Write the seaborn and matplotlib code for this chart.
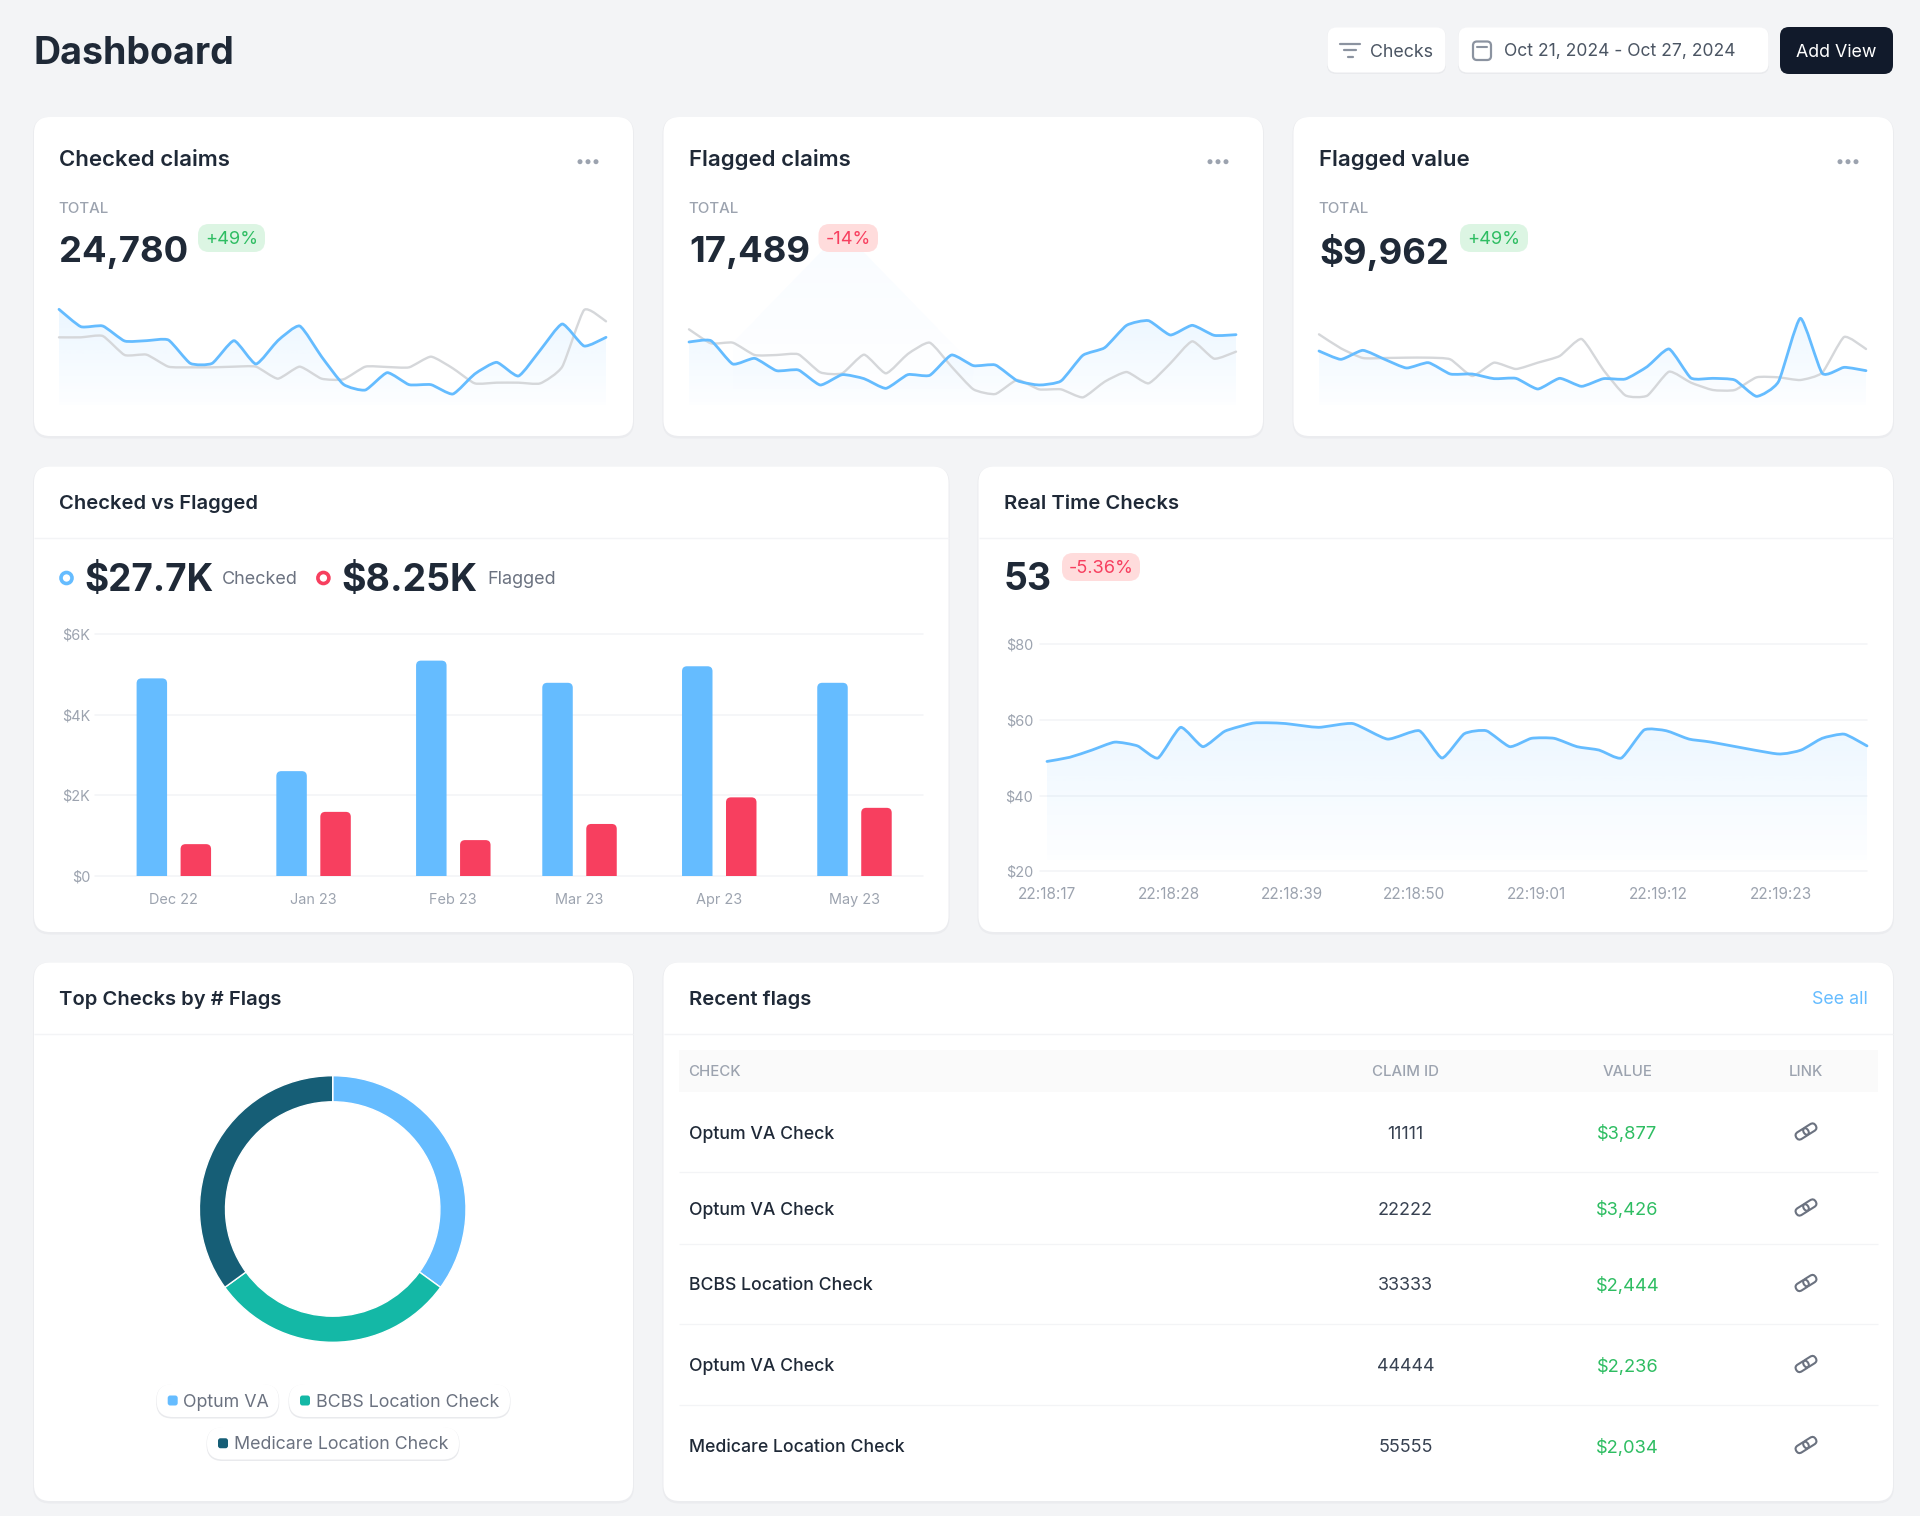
"""
plot.py
Rebuilds the claims dashboard as one seaborn / matplotlib figure.
"""

import numpy as np
import pandas as pd
import seaborn as sns
import matplotlib.pyplot as plt
from matplotlib.colors import to_rgb
from matplotlib.patches import FancyBboxPatch, Circle, Polygon, PathPatch, Rectangle
from matplotlib.path import Path
from matplotlib.transforms import Affine2D

W, H = 1920, 1516

# Sparkline series, heights above the baseline of each mini chart
spark1_blue = [287, 235, 237, 192, 193, 195, 125, 125, 193, 123, 193, 237, 145,
               62, 45, 97, 61, 61, 33, 93, 128, 87, 165, 243, 177, 203]
spark1_grey = [203, 203, 207, 150, 151, 115, 113, 113, 115, 115, 79, 115, 79,
               77, 115, 114, 113, 145, 110, 65, 67, 67, 65, 115, 285, 251]
spark2_blue = [189, 193, 123, 140, 103, 105, 60, 91, 79, 50, 91, 89, 150,
               118, 120, 73, 60, 72, 149, 172, 239, 253, 210, 239, 209, 211]
spark2_grey = [227, 185, 187, 150, 150, 152, 98, 95, 151, 95, 153, 187, 115,
               47, 33, 75, 47, 47, 23, 70, 99, 65, 125, 191, 139, 160]
spark2_ghost_idx = [2, 7, 13]
spark2_ghost = [187, 525, 120]
spark3_blue = [162, 137, 164, 137, 111, 127, 93, 93, 79, 80, 48, 80, 56,
               79, 78, 115, 168, 81, 80, 75, 26, 70, 260, 95, 113, 103]
spark3_grey = [212, 170, 141, 141, 142, 142, 137, 87, 127, 108, 127, 147, 198,
               105, 29, 28, 100, 67, 45, 45, 83, 83, 75, 97, 204, 168]

card_titles = ["Checked claims", "Flagged claims", "Flagged value"]
card_totals = ["24,780", "17,489", "$9,962"]
card_badges = ["+49%", "-14%", "+49%"]

# Checked vs Flagged
bar_months = ["Dec 22", "Jan 23", "Feb 23", "Mar 23", "Apr 23", "May 23"]
bar_days = [0, 31, 62, 90, 121, 151]
bar_checked = [4900, 2600, 5340, 4790, 5200, 4790]
bar_flagged = [790, 1590, 890, 1290, 1950, 1690]
bar_yticks = [0, 2000, 4000, 6000]
bar_ylabels = ["$0", "$2K", "$4K", "$6K"]

# Real time checks, seconds after 22:18:00
rt_seconds = [17, 19.05, 21.04, 23.09, 25.14, 26.98, 29.02, 31.02, 33.01, 35.5,
              37, 38.46, 41.43, 44.5, 47.63, 50.49, 52.53, 54.53, 56.52, 58.63,
              60.57, 62.62, 64.67, 66.66, 68.66, 70.71, 72.7, 74.75, 76.74,
              82.67, 84.83, 86.72, 88.72, 90.76]
rt_values = [49, 50.1, 52, 54.1, 53.1, 49.9, 58, 52.9, 57, 59.1,
             59.2, 59, 58, 59, 54.9, 57.1, 49.9, 56.3, 57.1, 52.9,
             55.1, 55.1, 52.9, 52, 49.9, 57.3, 57.1, 54.9, 54.1,
             51, 52, 55.1, 56.2, 53.1]
rt_ticks = [17, 28, 39, 50, 61, 72, 83]
rt_labels = ["22:18:17", "22:18:28", "22:18:39", "22:18:50", "22:19:01", "22:19:12", "22:19:23"]
rt_yticks = [20, 40, 60, 80]
rt_ylabels = ["$20", "$40", "$60", "$80"]

# Donut
donut_labels = ["Optum VA", "BCBS Location Check", "Medicare Location Check"]
donut_values = [35, 30, 35]

# Recent flags table
flag_checks = ["Optum VA Check", "Optum VA Check", "BCBS Location Check",
               "Optum VA Check", "Medicare Location Check"]
flag_claims = ["11111", "22222", "33333", "44444", "55555"]
flag_values = ["$3,877", "$3,426", "$2,444", "$2,236", "$2,034"]

BG = "#f3f4f6"
BLUE = "#65bcff"
RED = "#f73f5f"
TEAL = "#14b8a6"
NAVY = "#165e76"
GREY_LINE = "#d5d7da"
DARK = "#1f2937"
MUTED = "#9ca3af"
BODY = "#6b7280"
GREEN = "#2ebd62"
GRID = "#f3f4f6"

sns.set_theme(style="white")
plt.rcParams["font.family"] = ["Inter", "DejaVu Sans"]

fig = plt.figure(figsize=(W / 100, H / 100), dpi=100, facecolor=BG)


def px_axes(x0, y0, x1, y1, z=1):
    ax = fig.add_axes([x0 / W, 1 - y1 / H, (x1 - x0) / W, (y1 - y0) / H], zorder=z)
    ax.patch.set_alpha(0)
    return ax


def page_axes(z):
    ax = px_axes(0, 0, W, H, z)
    ax.set_xlim(0, W)
    ax.set_ylim(H, 0)
    ax.axis("off")
    return ax


bg = page_axes(0)
fg = page_axes(5)


def box(ax, x0, y0, x1, y1, r, fc, ec="none", lw=0.0, z=2):
    p = FancyBboxPatch((x0 + r, y0 + r), x1 - x0 - 2 * r, y1 - y0 - 2 * r,
                       boxstyle=f"round,pad={r},rounding_size={r}",
                       fc=fc, ec=ec, lw=lw, zorder=z)
    ax.add_patch(p)
    return p


def card(x0, y0, x1, y1):
    box(bg, x0 - 1, y0, x1 + 1, y1 + 2.5, 17, "#ebecef", z=1)
    box(bg, x0, y0, x1, y1, 16, "white", z=2)


def label(x, y, s, size, color=DARK, weight="normal", ha="left"):
    # va=center sits a little high for this font, nudge by the size
    return fg.text(x, y + 0.085 * size, s, fontsize=size * 0.72, color=color,
                   fontweight=weight, ha=ha, va="center")


def hline(x0, x1, y, color=GRID, lw=1.0):
    bg.plot([x0, x1], [y, y], color=color, lw=lw, zorder=3, solid_capstyle="butt")


def badge(x0, x1, y0, y1, s, good):
    box(fg, x0, y0, x1, y1, 11, "#dcf5e3" if good else "#ffdcdc", z=3)
    label((x0 + x1) / 2, (y0 + y1) / 2 - 0.5, s, 18.2, GREEN if good else RED, ha="center")


def gradient_fill(ax, x, y, base, top_val, alpha, alpha_low=0.012, z=1):
    """Fill under x/y with a vertical blue fade, clipped to the area."""
    img = np.ones((256, 1, 4))
    img[..., :3] = to_rgb(BLUE)
    img[:, 0, 3] = np.linspace(alpha, alpha_low, 256)
    xl, yl = ax.get_xlim(), ax.get_ylim()
    im = ax.imshow(img, extent=[min(x), max(x), base, top_val], aspect="auto", zorder=z,
                   origin="upper")
    poly = Polygon(list(zip(x, y)) + [(x[-1], base), (x[0], base)],
                   transform=ax.transData, fc="none", ec="none")
    ax.add_patch(poly)
    im.set_clip_path(poly)
    ax.set_xlim(xl)
    ax.set_ylim(yl)


def soften(ax, line, tension=0.09):
    """Swap a lineplot polyline for a bezier through the same points."""
    pts = line.get_xydata()
    verts = [tuple(pts[0])]
    codes = [Path.MOVETO]
    n = len(pts)
    for k in range(n - 1):
        p0 = pts[max(k - 1, 0)]
        p1, p2 = pts[k], pts[k + 1]
        p3 = pts[min(k + 2, n - 1)]
        verts += [tuple(p1 + (p2 - p0) * tension), tuple(p2 - (p3 - p1) * tension), tuple(p2)]
        codes += [Path.CURVE4] * 3
    patch = PathPatch(Path(verts, codes), fc="none", ec=line.get_color(), lw=line.get_linewidth(),
                      zorder=line.get_zorder(), clip_on=False, capstyle="round", joinstyle="round")
    ax.add_patch(patch)
    line.set_visible(False)


# Cards
card(34, 117, 633, 436)
card(663.5, 117, 1263, 436)
card(1293.5, 117, 1893, 436)
card(34, 466.5, 948.5, 932)
card(978.5, 466.5, 1893, 932)
card(34, 962.5, 633, 1501)
card(663.5, 962.5, 1893, 1501)

# Header
label(34, 51, "Dashboard", 37.5, DARK, "bold")
box(bg, 1327, 28, 1446, 74, 9, "#e9eaed", z=1)
box(bg, 1327.5, 27.5, 1445.5, 72.5, 9, "white")
box(bg, 1458, 28, 1769, 74, 9, "#e9eaed", z=1)
box(bg, 1458.5, 27.5, 1768.5, 72.5, 9, "white")
box(bg, 1780, 27, 1893, 74, 9, "#111a2b")
label(1370, 50.5, "Checks", 17.8, "#4b5563")
label(1503.5, 50.5, "Oct 21, 2024 - Oct 27, 2024", 17.5, "#4b5563")
label(1836.5, 50.5, "Add View", 17.8, "white", ha="center")
for y, x0, x1 in [(44, 1340, 1360), (50, 1344, 1356), (57, 1347.5, 1352.5)]:
    fg.plot([x0, x1], [y, y], color="#8b93a0", lw=1.6, solid_capstyle="round")
box(fg, 1473, 41.5, 1491, 60, 4, "none", "#8b93a0", 1.6)
fg.plot([1477, 1487], [47, 47], color="#8b93a0", lw=1.5)

# KPI cards
spark_x = [(59, 606), (689, 1236), (1319, 1866)]
badge_x = [(198, 265), (818.5, 878), (1460, 1528)]
spark_blue = [spark1_blue, spark2_blue, spark3_blue]
spark_grey = [spark1_grey, spark2_grey, spark3_grey]
for i in range(3):
    x0, x1 = spark_x[i]
    label(x0, 158, card_titles[i], 22.2, DARK, "semibold")
    label(x0 - 1, 207.5, "TOTAL", 15, MUTED, "medium")
    label(x0, 249.5, card_totals[i], 36.5, DARK, "bold")
    badge(badge_x[i][0], badge_x[i][1], 224, 252, card_badges[i], card_badges[i][0] == "+")
    for j in range(3):
        fg.add_patch(Circle((x1 - 26 + j * 8, 161.7), 2.5, fc=MUTED, ec="none"))

    ax = px_axes(x0, 225, x1, 405, 1)
    ax.set_xlim(0, 25)
    ax.set_ylim(0, 540)
    ax.axis("off")
    idx = list(range(26))
    gradient_fill(ax, idx, spark_blue[i], 0, 290, 0.13)
    if i == 1:
        gradient_fill(ax, spark2_ghost_idx, spark2_ghost, 0, 525, 0.045, alpha_low=0.0)
    sns.lineplot(x=idx, y=spark_grey[i], ax=ax, color=GREY_LINE, lw=1.7, errorbar=None, zorder=3)
    sns.lineplot(x=idx, y=spark_blue[i], ax=ax, color=BLUE, lw=2.0, errorbar=None, zorder=4)
    for ln in list(ax.lines):
        soften(ax, ln)

# Checked vs Flagged
label(59, 502, "Checked vs Flagged", 20.2, DARK, "semibold")
hline(34, 948.5, 537.5)
label(84, 578, "$27.7K", 37, DARK, "bold")
label(221.5, 578, "Checked", 18, BODY)
label(341, 578, "$8.25K", 37.5, DARK, "bold")
label(487.5, 578, "Flagged", 18, BODY)
fg.add_patch(Circle((66.5, 578), 5.5, fc="white", ec=BLUE, lw=2.6))
fg.add_patch(Circle((323.4, 578), 5.5, fc="white", ec=RED, lw=2.6))

bar_df = pd.concat([
    pd.DataFrame({"day": bar_days, "value": bar_checked, "series": "Checked"}),
    pd.DataFrame({"day": bar_days, "value": bar_flagged, "series": "Flagged"}),
])
ax = px_axes(94.5, 634, 923, 876, 2)
sns.barplot(data=bar_df, x="day", y="value", hue="series", native_scale=True,
            palette={"Checked": BLUE, "Flagged": RED}, width=0.697, gap=0.307,
            legend=False, ax=ax, saturation=1, zorder=3)
ax.set_xlim(-17.6, 166.2)
ax.set_ylim(0, 6000)
ax.set_xlabel("")
ax.set_ylabel("")
ax.set_xticks(bar_days, bar_months)
ax.set_yticks(bar_yticks, bar_ylabels)
ax.tick_params(axis="x", length=0, pad=12, labelsize=10.4, labelcolor=MUTED)
ax.tick_params(axis="y", length=0, pad=3.2, labelsize=10.4, labelcolor=MUTED)
ax.grid(axis="y", color=GRID, lw=1.1)
ax.set_axisbelow(True)
sns.despine(ax=ax, left=True, bottom=True)
for gl in ax.get_ygridlines():
    gl.set_clip_on(False)
# round the top corners of every bar
rx, ry = 5 / 4.507, 5 * 6000 / 242
for rect in list(ax.patches):
    if rect.get_height() == 0:
        continue
    bx, bw, bh = rect.get_x(), rect.get_width(), rect.get_height()
    verts = [(bx, 0), (bx, bh - ry), (bx, bh), (bx + rx, bh), (bx + bw - rx, bh),
             (bx + bw, bh), (bx + bw, bh - ry), (bx + bw, 0), (bx, 0)]
    codes = [Path.MOVETO, Path.LINETO, Path.CURVE3, Path.CURVE3, Path.LINETO,
             Path.CURVE3, Path.CURVE3, Path.LINETO, Path.CLOSEPOLY]
    ax.add_patch(PathPatch(Path(verts, codes), fc=rect.get_facecolor(), ec="none", zorder=3))
    rect.set_visible(False)

# Real Time Checks
label(1004, 502, "Real Time Checks", 20.2, DARK, "semibold")
hline(978.5, 1893, 537.5)
label(1004, 577, "53", 37.5, DARK, "bold")
badge(1062, 1140, 553, 581, "-5.36%", False)

ax = px_axes(1040, 644, 1867, 871.3, 2)
ax.set_xlim(16.37, 90.76)
ax.set_ylim(20, 80)
gradient_fill(ax, rt_seconds, rt_values, 23, 59, 0.12, z=2)
sns.lineplot(x=rt_seconds, y=rt_values, ax=ax, color=BLUE, lw=2.0, errorbar=None, zorder=4)
soften(ax, ax.lines[0])
ax.set_xticks(rt_ticks, rt_labels)
ax.set_yticks(rt_yticks, rt_ylabels)
ax.tick_params(axis="x", length=0, pad=11, labelsize=11.0, labelcolor=MUTED)
ax.tick_params(axis="y", length=0, pad=5, labelsize=10.4, labelcolor=MUTED)
ax.grid(axis="y", color=GRID, lw=1.1)
ax.set_axisbelow(True)
sns.despine(ax=ax, left=True, bottom=True)
for gl in ax.get_ygridlines():
    gl.set_clip_on(False)

# Top checks donut
label(59, 998, "Top Checks by # Flags", 20.2, DARK, "semibold")
hline(34, 633, 1033.5)
ax = px_axes(199.4, 1075.7, 466, 1342.3, 2)
ax.pie(donut_values, colors=[BLUE, TEAL, NAVY], startangle=90, counterclock=False,
       radius=1, wedgeprops={"width": 26.1 / 133.3})
ax.set_xlim(-1, 1)
ax.set_ylim(-1, 1)

pills = [(156.7, 278.7, 1384, 1417, 167.7, 183.3),
         (289, 510, 1384, 1417, 300, 315.7),
         (207, 459, 1427, 1459.5, 218, 234)]
for (px0, px1, py0, py1, sx, tx), name, c in zip(pills, donut_labels, [BLUE, TEAL, NAVY]):
    box(bg, px0 - 0.5, py0 + 0.5, px1 + 0.5, py1 + 1.5, 16, "#e9eaed", z=3)
    box(bg, px0, py0, px1, py1, 16, "white", z=4)
    box(fg, sx, (py0 + py1) / 2 - 5, sx + 10, (py0 + py1) / 2 + 5, 2.5, c)
    label(tx, (py0 + py1) / 2, name, 17.8, BODY)

# Recent flags table
label(689, 998, "Recent flags", 20.2, DARK, "semibold")
label(1867.5, 998, "See all", 17.8, BLUE, ha="right")
hline(663.5, 1893, 1033.5)
bg.add_patch(Rectangle((678.5, 1049.5), 1199, 42.5, fc="#fafafa", ec="none", zorder=3))
label(688.5, 1071, "CHECK", 15, MUTED, "medium")
label(1405.6, 1071, "CLAIM ID", 15, MUTED, "medium", ha="center")
label(1627.5, 1071, "VALUE", 15, MUTED, "medium", ha="center")
label(1806, 1071, "LINK", 15, MUTED, "medium", ha="center")

row_y = [1132.5, 1208.5, 1284, 1365, 1446]
for y in [1172, 1244, 1324, 1404.5]:
    hline(678.5, 1878, y, lw=0.9)
for y, chk, cid, val in zip(row_y, flag_checks, flag_claims, flag_values):
    label(689, y, chk, 17.65, DARK, "medium")
    label(1405.6, y, cid, 17.95, "#374151", ha="center")
    label(1627.5, y, val, 18.3, GREEN, ha="center")
    # chain icon, two linked capsules
    for dx, dy in [(-3.8, 2.4), (3.8, -2.4)]:
        cx, cy = 1806 + dx, y - 1 + dy
        cap = FancyBboxPatch((cx - 3, cy - 0.05), 6, 0.1,
                             boxstyle="round,pad=3.9,rounding_size=3.9",
                             fc="none", ec=BODY, lw=1.5, zorder=3)
        cap.set_transform(Affine2D().rotate_deg_around(cx, cy, -32) + fg.transData)
        fg.add_patch(cap)

fig.savefig("out.png", dpi=100, facecolor=BG)
plt.close(fig)
